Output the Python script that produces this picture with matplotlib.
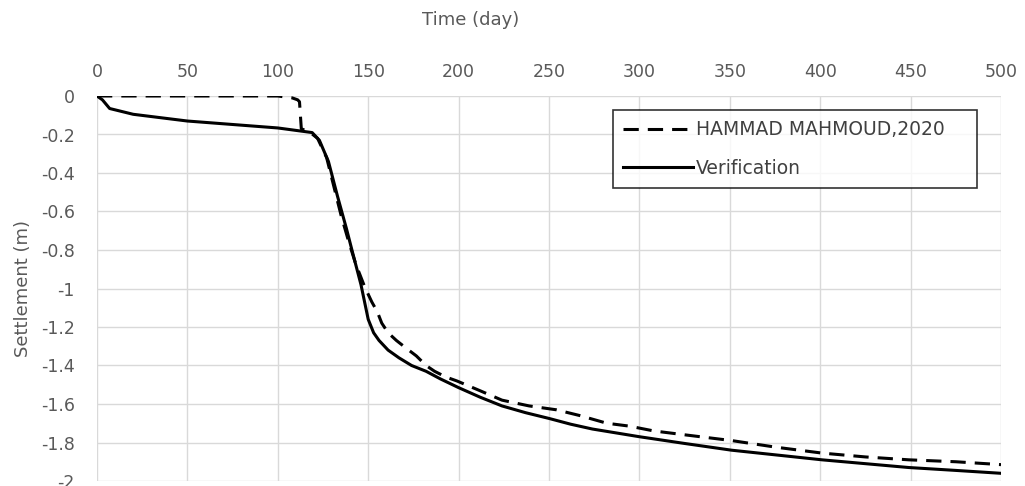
import matplotlib
matplotlib.use("Agg")
import matplotlib.pyplot as plt
from matplotlib.ticker import FuncFormatter

# settlement vs time
ref_day = [0, 100, 108, 111, 112, 113, 118, 122, 127, 131, 135, 139, 143, 148, 152,
           155, 157.5, 161, 165.6, 171, 176.6, 182, 186.7, 193, 199, 211.6, 224, 239,
           254, 267, 282, 294.5, 308, 325, 351, 376, 401, 425, 449, 475, 500]
ref_settle = [0, 0, -0.01, -0.02, -0.03, -0.17, -0.19, -0.22, -0.32, -0.47, -0.62, -0.75,
              -0.87, -0.99, -1.07, -1.12, -1.18, -1.23, -1.27, -1.31, -1.35, -1.40, -1.43,
              -1.46, -1.48, -1.53, -1.58, -1.61, -1.63, -1.66, -1.70, -1.715, -1.74,
              -1.76, -1.79, -1.825, -1.855, -1.875, -1.89, -1.90, -1.915]

ver_day = [0, 3, 7, 20, 50, 100, 119, 123, 128, 133, 138, 141, 146, 150, 153, 156, 161,
           167, 174, 182, 190, 200, 212, 224, 237, 250, 262, 274, 287, 300, 325, 351,
           376, 401, 425, 449, 475, 500]
ver_settle = [0, -0.02, -0.065, -0.095, -0.13, -0.166, -0.19, -0.23, -0.34, -0.52, -0.69,
              -0.80, -0.98, -1.16, -1.23, -1.27, -1.32, -1.36, -1.40, -1.43, -1.47, -1.515,
              -1.565, -1.61, -1.645, -1.675, -1.705, -1.73, -1.75, -1.77, -1.805, -1.84,
              -1.865, -1.89, -1.91, -1.93, -1.945, -1.96]

x_ticks = [0, 50, 100, 150, 200, 250, 300, 350, 400, 450, 500]
y_ticks = [0, -0.2, -0.4, -0.6, -0.8, -1, -1.2, -1.4, -1.6, -1.8, -2]

TEXT_COL = "#595959"
GRID_COL = "#d9d9d9"

plt.rcParams["font.family"] = ["DejaVu Sans"]
plt.rcParams["lines.scale_dashes"] = False

fig = plt.figure(figsize=(10.25, 4.86), dpi=100)
ax = fig.add_axes([97 / 1025, 1 - 481 / 486, 904 / 1025, 385 / 486])

ax.plot(ref_day, ref_settle, color="black", lw=2.2, linestyle=(0, (11, 6.5)),
        label="HAMMAD MAHMOUD,2020")
ax.plot(ver_day, ver_settle, color="black", lw=2.2, label="Verification")

ax.set_xlim(0, 500)
ax.set_ylim(-2, 0)
ax.set_xticks(x_ticks)
ax.set_yticks(y_ticks)
ax.yaxis.set_major_formatter(FuncFormatter(lambda v, p: "%g" % round(v, 1)))
ax.xaxis.tick_top()
ax.xaxis.set_label_position("top")
ax.tick_params(axis="both", length=0, labelsize=12.5, colors=TEXT_COL)
ax.tick_params(axis="x", pad=11)
ax.tick_params(axis="y", pad=16)

ax.grid(True, color=GRID_COL, lw=1)
ax.set_axisbelow(True)
for s in ax.spines.values():
    s.set_visible(False)

ax.set_xlabel("Time (day)", fontsize=13, color=TEXT_COL, va="center")
ax.xaxis.set_label_coords(0.413, 1.197)
ax.set_ylabel("Settlement (m)", fontsize=13, color=TEXT_COL, va="center")
ax.yaxis.set_label_coords(-0.082, 0.5)

leg = ax.legend(loc="upper left", bbox_to_anchor=(0.571, 0.751, 0.402, 0.213),
                mode="expand", borderaxespad=0, fontsize=13.5, handlelength=3.7,
                frameon=True, fancybox=False, labelspacing=1.05, handletextpad=0.15,
                borderpad=0.55)
leg.get_frame().set_edgecolor("black")
leg.get_frame().set_linewidth(1.2)
for t in leg.get_texts():
    t.set_color("#404040")

fig.savefig("out.png", dpi=100)
